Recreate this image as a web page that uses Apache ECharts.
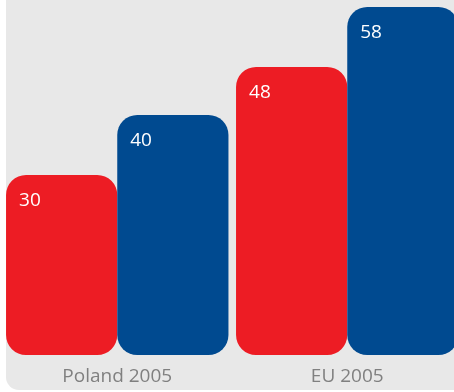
<!DOCTYPE html>
<html>
<head>
<meta charset="utf-8">
<script src="https://cdn.jsdelivr.net/npm/echarts@6/dist/echarts.min.js"></script>
<style>
  html, body { margin: 0; padding: 0; background: #ffffff; }
  #chart { width: 454px; height: 392px; }
</style>
</head>
<body>
<div id="chart"></div>
<script>
// Two groups, two bars each
const categories = ['Poland 2005', 'EU 2005'];
const redValues = [30, 48];
const blueValues = [40, 58];

const RED = '#ED1C24';
const BLUE = '#004A90';
const FONT = '"Open Sans", "Noto Sans", sans-serif';

const chart = echarts.init(document.getElementById('chart'), null, { renderer: 'canvas' });

function barSeries(name, values, color) {
  return {
    name: name,
    type: 'bar',
    data: values,
    barGap: '0%',
    barCategoryGap: '3.3%',
    itemStyle: { color: color, borderRadius: 20 },
    label: {
      show: true,
      position: [13, 16],
      align: 'left',
      verticalAlign: 'top',
      color: '#ffffff',
      fontFamily: FONT,
      fontSize: 19
    },
    emphasis: { disabled: true },
    z: 2
  };
}

chart.setOption({
  animation: false,
  backgroundColor: '#ffffff',
  graphic: [{
    type: 'rect',
    z: -10,
    silent: true,
    shape: { x: 6, y: -30, width: 480, height: 420, r: 13 },
    style: { fill: '#E8E8E8' }
  }],
  // the plot runs past the right edge so the last bar is clipped
  grid: {
    left: 2.25, width: 460, top: 1, bottom: 37,
    containLabel: false,
    outerBoundsMode: 'none'
  },
  xAxis: {
    type: 'category',
    data: categories,
    axisLine: { show: false },
    axisTick: { show: false },
    axisLabel: {
      margin: 12,
      color: '#808080',
      fontFamily: FONT,
      fontSize: 19
    }
  },
  yAxis: {
    type: 'value',
    min: 0,
    max: 59,
    show: false,
    splitLine: { show: false }
  },
  series: [
    barSeries('Red', redValues, RED),
    barSeries('Blue', blueValues, BLUE)
  ]
});
</script>
</body>
</html>
